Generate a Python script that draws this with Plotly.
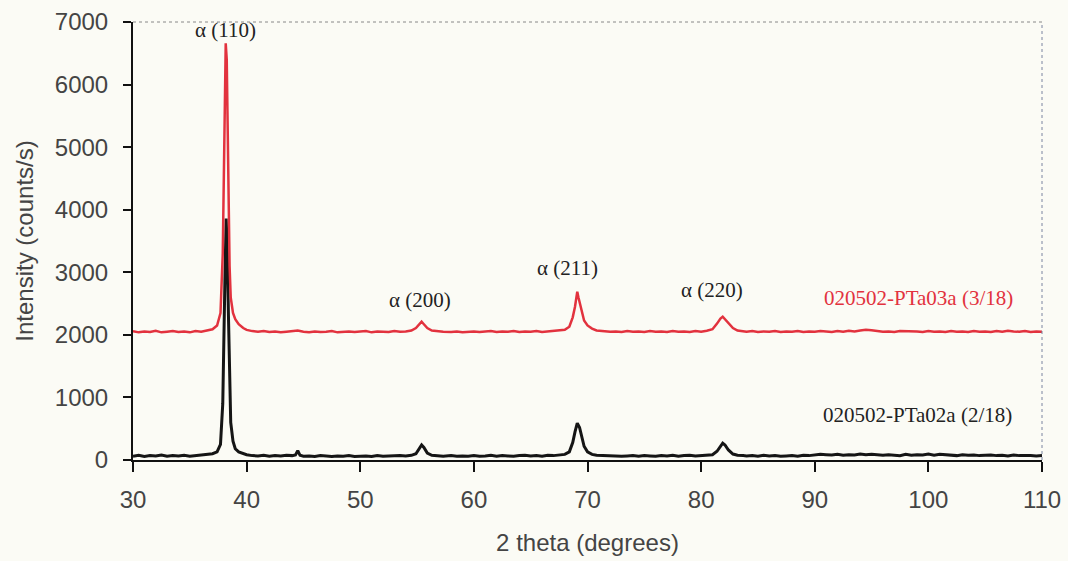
import plotly.graph_objects as go

# ---------------- data ----------------
black_x = [30, 30.5, 31, 31.5, 32, 32.5, 33, 33.5, 34, 34.5, 35, 35.5, 36, 36.5, 37, 37.4, 37.7, 37.9,
           38.0, 38.1, 38.2, 38.25, 38.3, 38.4, 38.5, 38.6, 38.8, 39.0, 39.3, 39.7, 40, 40.5, 41, 41.5,
           42, 42.5, 43, 43.5, 44, 44.3, 44.5, 44.7, 45, 45.5, 46, 46.5, 47, 47.5, 48, 48.5, 49, 49.5,
           50, 50.5, 51, 51.5, 52, 52.5, 53, 53.5, 54, 54.5, 54.9, 55.2, 55.4, 55.6, 55.9, 56.3, 56.8,
           57.3, 58, 58.5, 59, 59.5, 60, 60.5, 61, 61.5, 62, 62.5, 63, 63.5, 64, 64.5, 65, 65.5, 66,
           66.5, 67, 67.5, 68, 68.4, 68.7, 68.9, 69.1, 69.3, 69.5, 69.7, 70.0, 70.4, 70.8, 71.3, 72,
           72.5, 73, 73.5, 74, 74.5, 75, 75.5, 76, 76.5, 77, 77.5, 78, 78.5, 79, 79.5, 80, 80.5, 81,
           81.4, 81.7, 81.9, 82.1, 82.4, 82.8, 83.2, 83.7, 84, 84.5, 85, 85.5, 86, 86.5, 87, 87.5, 88,
           88.5, 89, 89.5, 90, 90.5, 91, 91.5, 92, 92.5, 93, 93.5, 94, 94.5, 95, 95.5, 96, 96.5, 97,
           97.5, 98, 98.5, 99, 99.5, 100, 100.5, 101, 101.5, 102, 102.5, 103, 103.5, 104, 104.5, 105,
           105.5, 106, 106.5, 107, 107.5, 108, 108.5, 109, 109.5, 110]
black_y = [60, 75, 55, 70, 65, 80, 60, 70, 65, 75, 60, 70, 75, 85, 100, 130, 250, 900,
           1700, 3000, 3860, 3600, 3300, 2300, 1200, 600, 300, 180, 130, 100, 85, 70, 65, 75,
           60, 70, 65, 75, 70, 80, 150, 75, 60, 65, 55, 70, 60, 55, 65, 60, 70, 55,
           60, 65, 55, 70, 60, 65, 60, 70, 65, 75, 100, 180, 240, 200, 110, 75, 65,
           60, 70, 60, 65, 60, 70, 60, 65, 75, 60, 70, 65, 60, 70, 75, 65, 70, 60,
           75, 70, 80, 90, 130, 280, 450, 590, 520, 360, 220, 130, 90, 75, 70, 65,
           70, 60, 65, 70, 60, 70, 65, 60, 70, 65, 75, 60, 70, 75, 65, 70, 75, 85,
           140, 230, 270, 240, 160, 95, 75, 70, 65, 70, 60, 75, 65, 70, 60, 65, 70,
           60, 75, 70, 80, 90, 85, 80, 90, 75, 85, 80, 95, 85, 90, 80, 75, 85, 80,
           70, 90, 75, 85, 80, 95, 75, 90, 85, 80, 70, 85, 75, 80, 70, 75,
           80, 70, 75, 65, 80, 70, 75, 70, 65, 70]

red_x = [30, 30.5, 31, 31.5, 32, 32.5, 33, 33.5, 34, 34.5, 35, 35.5, 36, 36.5, 37, 37.4, 37.7, 37.9,
         38.0, 38.1, 38.16, 38.25, 38.3, 38.4, 38.5, 38.6, 38.8, 39.0, 39.3, 39.7, 40, 40.5, 41, 41.5,
         42, 42.5, 43, 43.5, 44, 44.5, 45, 45.5, 46, 46.5, 47, 47.5, 48, 48.5, 49, 49.5, 50, 50.5,
         51, 51.5, 52, 52.5, 53, 53.5, 54, 54.5, 54.9, 55.2, 55.4, 55.6, 55.9, 56.3, 56.8, 57.3, 58,
         58.5, 59, 59.5, 60, 60.5, 61, 61.5, 62, 62.5, 63, 63.5, 64, 64.5, 65, 65.5, 66, 66.5, 67,
         67.5, 68, 68.4, 68.7, 68.9, 69.1, 69.2, 69.3, 69.5, 69.7, 70.0, 70.4, 70.8, 71.3, 72, 72.5,
         73, 73.5, 74, 74.5, 75, 75.5, 76, 76.5, 77, 77.5, 78, 78.5, 79, 79.5, 80, 80.5, 81, 81.4,
         81.7, 81.9, 82.1, 82.4, 82.8, 83.2, 83.7, 84, 84.5, 85, 85.5, 86, 86.5, 87, 87.5, 88, 88.5,
         89, 89.5, 90, 90.5, 91, 91.5, 92, 92.5, 93, 93.5, 94, 94.5, 95, 95.5, 96, 96.5, 97, 97.5,
         98, 98.5, 99, 99.5, 100, 100.5, 101, 101.5, 102, 102.5, 103, 103.5, 104, 104.5, 105, 105.5,
         106, 106.5, 107, 107.5, 108, 108.5, 109, 109.5, 110]
red_y = [2060, 2040, 2055, 2045, 2065, 2040, 2050, 2060, 2045, 2055, 2040, 2060, 2050, 2070, 2090, 2150, 2350, 3300,
         4800, 6200, 6660, 6400, 5600, 4200, 3100, 2600, 2350, 2250, 2170, 2110, 2080, 2060, 2050, 2060,
         2045, 2055, 2040, 2050, 2060, 2070, 2050, 2040, 2055, 2045, 2050, 2060, 2040, 2050, 2055, 2045, 2050, 2060,
         2040, 2055, 2050, 2045, 2060, 2050, 2055, 2070, 2110, 2170, 2210, 2170, 2110, 2070, 2055, 2050, 2045,
         2055, 2040, 2050, 2055, 2045, 2050, 2060, 2045, 2055, 2050, 2060, 2045, 2055, 2050, 2060, 2045, 2055, 2060,
         2065, 2080, 2130, 2280, 2450, 2690, 2600, 2520, 2350, 2230, 2150, 2100, 2070, 2060, 2050, 2055,
         2045, 2060, 2050, 2055, 2045, 2060, 2050, 2055, 2045, 2060, 2050, 2055, 2045, 2060, 2050, 2065, 2090, 2180,
         2260, 2290, 2250, 2200, 2110, 2070, 2055, 2050, 2060, 2045, 2055, 2050, 2060, 2045, 2055, 2050, 2060,
         2045, 2055, 2050, 2060, 2055, 2045, 2060, 2050, 2065, 2055, 2070, 2080, 2075, 2060, 2050, 2055, 2045, 2060,
         2060, 2050, 2055, 2045, 2060, 2050, 2055, 2045, 2060, 2050, 2055, 2045, 2060, 2050, 2055, 2045,
         2060, 2050, 2065, 2055, 2050, 2060, 2045, 2055, 2050]

assert len(black_x) == len(black_y)
assert len(red_x) == len(red_y)

peak_labels = ["α (110)", "α (200)", "α (211)", "α (220)"]
peak_label_x = [38.1, 55.3, 68.2, 81.0]
peak_label_y = [6870, 2560, 3070, 2720]

series_names = ["020502-PTa03a (3/18)", "020502-PTa02a (2/18)"]
series_label_x = [99.1, 99.0]
series_label_y = [2590, 720]

x_ticks = [30, 40, 50, 60, 70, 80, 90, 100, 110]
y_ticks = [0, 1000, 2000, 3000, 4000, 5000, 6000, 7000]

# ---------------- figure ----------------
RED = "#e2323e"
BLACK = "#151515"
BG = "#fbfbf5"
AXIS_FONT = dict(family="Liberation Sans, Arial, sans-serif", size=24, color="#444444")

fig = go.Figure()
fig.add_trace(go.Scatter(x=black_x, y=black_y, mode="lines", name=series_names[1],
                         line=dict(color=BLACK, width=3)))
fig.add_trace(go.Scatter(x=red_x, y=red_y, mode="lines", name=series_names[0],
                         line=dict(color=RED, width=2.5)))

for t, x, y in zip(peak_labels, peak_label_x, peak_label_y):
    fig.add_annotation(x=x, y=y, text=t, showarrow=False,
                       font=dict(family="Liberation Serif, Times New Roman, serif", size=21, color="#222222"))

for t, x, y, c in zip(series_names, series_label_x, series_label_y, [RED, "#222222"]):
    fig.add_annotation(x=x, y=y, text=t, showarrow=False,
                       font=dict(family="Liberation Serif, Times New Roman, serif", size=21, color=c))

# dotted top and right frame
fig.add_shape(type="line", xref="paper", yref="paper", x0=0, x1=1, y0=1, y1=1,
              line=dict(color="#888888", width=1, dash="dot"))
fig.add_shape(type="line", xref="paper", yref="paper", x0=1, x1=1, y0=0, y1=1,
              line=dict(color="#7a84a0", width=1, dash="dot"))

fig.update_layout(
    width=1068, height=561,
    margin=dict(l=133, r=26, t=22, b=101),
    paper_bgcolor=BG, plot_bgcolor=BG,
    showlegend=False,
    xaxis=dict(range=[30, 110], tickvals=x_ticks, ticks="outside", ticklen=10, tickwidth=1.5,
               tickcolor="#111111", showline=True, linecolor="#111111", linewidth=2,
               showgrid=False, zeroline=False, tickfont=AXIS_FONT, ticklabelstandoff=7,
               automargin=False,
               title=dict(text="2 theta (degrees)", font=AXIS_FONT, standoff=22)),
    yaxis=dict(range=[0, 7000], tickvals=y_ticks, ticks="outside", ticklen=8, tickwidth=1.5,
               tickcolor="#111111", showline=True, linecolor="#111111", linewidth=2,
               showgrid=False, zeroline=False, tickfont=AXIS_FONT, ticklabelstandoff=10,
               automargin=False,
               title=dict(text="Intensity (counts/s)", font=AXIS_FONT, standoff=14)),
)

fig.write_html("out.html")
